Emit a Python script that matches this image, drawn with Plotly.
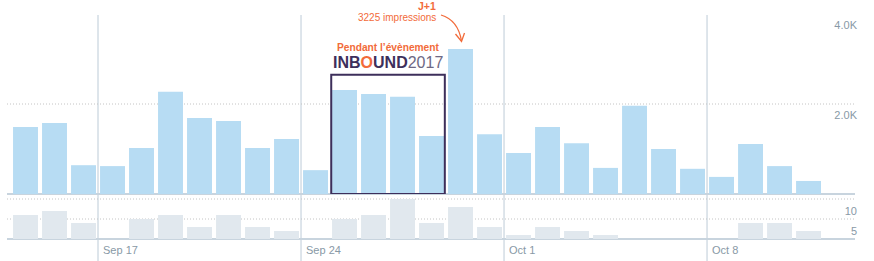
import plotly.graph_objects as go
from datetime import datetime, timedelta

# ---------------- data ----------------
DATES = [(datetime(2017, 9, 14) + timedelta(days=i)).strftime("%Y-%m-%d") for i in range(28)]
IMPRESSIONS = [1490, 1580, 640, 620, 1020, 2270, 1690, 1620, 1020, 1220,
               530, 2310, 2220, 2160, 1290, 3225, 1330, 910, 1490, 1130,
               580, 1960, 1000, 560, 380, 1110, 620, 290]
ENGAGEMENTS = [6, 7, 4, 0, 5, 6, 3, 6, 3, 2,
               0, 5, 6, 10, 4, 8, 3, 1, 3, 2,
               1, 0, 0, 0, 0, 4, 4, 2]
X_TICK_VALS = ["2017-09-17", "2017-09-24", "2017-10-01", "2017-10-08"]
X_TICK_TEXT = ["Sep 17", "Sep 24", "Oct 1", "Oct 8"]
TOP_TICK_VALS = [2000, 4000]
TOP_TICK_TEXT = ["2.0K", "4.0K"]
TOP_GRID = [2000]
BOT_TICK_VALS = [5, 10]
BOT_TICK_TEXT = ["5", "10"]
BOT_GRID = [5, 10]
EVENT_START = "2017-09-25 01:00"
EVENT_END = "2017-09-28 23:00"
EVENT_TOP = 2650
J1_INDEX = 15

# ---------------- geometry ----------------
W, H = 874, 261
ML, MR, MT, MB = 7, 19, 14, 22
PW, PH = W - ML - MR, H - MT - MB


def px(xp):
    return (xp - ML) / PW


def py(yp):
    return (H - MB - yp) / PH


ORANGE = "#f26b3a"
PURPLE = "#3d2f5b"
AXIS_GRAY = "#8899a6"
LINE = "#c8d4de"
FONT = "Liberation Sans, Arial, sans-serif"

x_noon = [d + " 12:00" for d in DATES]

fig = go.Figure()
fig.add_trace(go.Bar(x=x_noon, y=IMPRESSIONS, xaxis="x", yaxis="y",
                     marker=dict(color="#b7dcf3", line=dict(width=0)),
                     hoverinfo="x+y"))
fig.add_trace(go.Bar(x=x_noon, y=ENGAGEMENTS, xaxis="x", yaxis="y2",
                     marker=dict(color="#e1e8ee", line=dict(width=0)),
                     hoverinfo="x+y"))

top_dom0 = py(194)
bot_dom1 = py(195)

shapes = []
# vertical week separators
for v in X_TICK_VALS:
    shapes.append(dict(type="line", xref="x", yref="paper", x0=v, x1=v,
                       y0=py(H + 2), y1=py(15), line=dict(color=LINE, width=1.2),
                       layer="below"))
for g in TOP_GRID:
    shapes.append(dict(type="line", xref="paper", yref="y", x0=0, x1=1, y0=g, y1=g,
                       line=dict(color="#c4c4c4", width=1, dash="1px,2px"), layer="below"))
for g in BOT_GRID:
    shapes.append(dict(type="line", xref="paper", yref="y2", x0=0, x1=1, y0=g, y1=g,
                       line=dict(color="#c4c4c4", width=1, dash="1px,2px"), layer="below"))
# event box
shapes.append(dict(type="rect", xref="x", yref="y", x0=EVENT_START, x1=EVENT_END,
                   y0=0, y1=EVENT_TOP, line=dict(color=PURPLE, width=2),
                   fillcolor="rgba(0,0,0,0)", layer="above"))
# curved arrow
shapes.append(dict(type="path", xref="paper", yref="paper",
                   path=f"M {px(441)},{py(15)} Q {px(458)},{py(20)} {px(461.5)},{py(41)}",
                   line=dict(color=ORANGE, width=1.3)))
shapes.append(dict(type="path", xref="paper", yref="paper",
                   path=f"M {px(455.5)},{py(34)} L {px(461.5)},{py(41.5)} L {px(464.5)},{py(33)}",
                   line=dict(color=ORANGE, width=1.3)))

annotations = [
    dict(xref="paper", yref="paper", x=px(438), y=py(6.5), xanchor="right", yanchor="middle",
         text="<b>J+1</b>", showarrow=False, font=dict(family=FONT, size=10.5, color=ORANGE)),
    dict(xref="paper", yref="paper", x=px(438), y=py(17.5), xanchor="right", yanchor="middle",
         text=f"{IMPRESSIONS[J1_INDEX]} impressions", showarrow=False,
         font=dict(family=FONT, size=10, color=ORANGE)),
    dict(xref="paper", yref="paper", x=px(388), y=py(48), xanchor="center", yanchor="middle",
         text="<b>Pendant l’évènement</b>", showarrow=False,
         font=dict(family=FONT, size=10.2, color=ORANGE)),
    dict(xref="paper", yref="paper", x=px(388), y=py(62), xanchor="center", yanchor="middle",
         text=(f"<span style='color:{PURPLE}'><b>INB</b></span>"
               f"<span style='color:{ORANGE}'><b>O</b></span>"
               f"<span style='color:{PURPLE}'><b>UND</b></span>"
               f"<span style='color:#6e6884'>2017</span>"),
         showarrow=False, font=dict(family=FONT, size=16, color=PURPLE)),
]
# x tick labels, left-aligned just right of each week separator
for v, t in zip(X_TICK_VALS, X_TICK_TEXT):
    annotations.append(dict(xref="x", yref="paper", x=v, y=py(250), xanchor="left",
                            yanchor="middle", xshift=3, text=t, showarrow=False,
                            font=dict(family=FONT, size=11, color=AXIS_GRAY)))

fig.update_layout(
    width=W, height=H,
    margin=dict(l=ML, r=MR, t=MT, b=MB, pad=0, autoexpand=False),
    paper_bgcolor="white", plot_bgcolor="white",
    showlegend=False, bargap=0.14,
    shapes=shapes, annotations=annotations,
    xaxis=dict(type="date", domain=[0, 1], anchor="y2", automargin=False,
               range=["2017-09-13 20:41", "2017-10-13 02:27"],
               tickvals=X_TICK_VALS, showticklabels=False,
               showgrid=False, zeroline=False, showline=False, ticks=""),
    yaxis=dict(domain=[top_dom0, 1], anchor="x", side="right", automargin=False,
               range=[0, 4000], tickvals=TOP_TICK_VALS, ticktext=TOP_TICK_TEXT,
               ticklabelposition="inside", ticklabelshift=11, ticklabelstandoff=-5,
               ticks="",
               showgrid=False, zeroline=True, zerolinecolor=LINE, zerolinewidth=1.5,
               showline=False,
               tickfont=dict(family=FONT, size=11, color=AXIS_GRAY)),
    yaxis2=dict(domain=[0, bot_dom1], anchor="x", side="right", automargin=False,
                range=[0, 11], tickvals=BOT_TICK_VALS, ticktext=BOT_TICK_TEXT,
                ticklabelposition="inside", ticklabelshift=12, ticklabelstandoff=-5,
                ticks="",
                showgrid=False, zeroline=True, zerolinecolor=LINE, zerolinewidth=1.5,
                showline=False,
                tickfont=dict(family=FONT, size=11, color=AXIS_GRAY)),
)

fig.write_html("out.html")
